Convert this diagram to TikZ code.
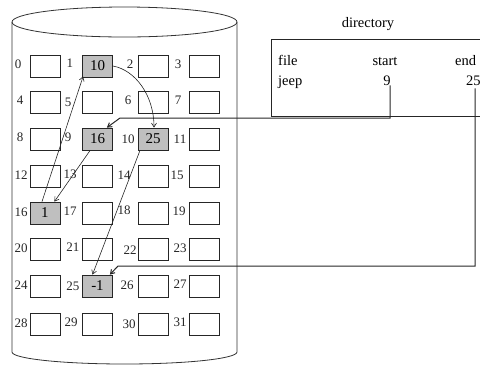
\documentclass[tikz,border=0pt]{standalone}
\usepackage{fontspec}
\setmainfont{Liberation Serif}
\usetikzlibrary{arrows.meta}
\begin{document}
\begin{tikzpicture}[x=1pt,y=-1pt,
  blk/.style={draw=black!85,line width=0.8pt,minimum width=30pt,minimum height=22pt,inner sep=0pt,font=\fontsize{15}{15}\selectfont},
  used/.style={blk,fill=black!25},
  lbl/.style={inner sep=0pt,font=\fontsize{13}{13}\selectfont,text=black!85},
  dtxt/.style={inner sep=0pt,anchor=base,font=\fontsize{14.5}{14.5}\selectfont},
  chain/.style={draw=black!85,line width=0.6pt,-{Straight Barb[length=4pt,width=5pt]}},
  ptr/.style={draw=black!85,line width=1pt,-{Straight Barb[length=4pt,width=5pt]}}]
\useasboundingbox (0,0) rectangle (480,368);
\clip (0,0) rectangle (480,368);
% cylinder
\draw[black!80,line width=0.8pt] (124.5,22) ellipse [x radius=112.5, y radius=15];
\draw[black!80,line width=0.8pt] (12,22) -- (12,352) arc[start angle=180,end angle=360,x radius=112.5,y radius=-12] -- (237,22);
% blocks
\foreach \i/\cx/\cy/\v in {0/45/66/,1/97.5/66/10,2/153/66/,3/204/66/,
  4/45/102/,5/97.5/102/,6/153/102/,7/204/102/,
  8/45/139/,9/97.5/139/16,10/153/139/25,11/204/139/,
  12/45/176/,13/97.5/176/,14/153/176/,15/204/176/,
  16/45/213/1,17/97.5/213/,18/153/213/,19/204/213/,
  20/45/249/,21/97.5/249/,22/153/249/,23/204/249/,
  24/45/286/,25/97.5/286/-1,26/153/286/,27/204/286/,
  28/45/324/,29/97.5/324/,30/153/324/,31/204/324/}{
  \ifx\v\empty
    \node[blk] (b\i) at (\cx,\cy) {};
  \else
    \node[used] (b\i) at (\cx,\cy) {\v};
  \fi
}
% labels
\foreach \i/\lx/\ly in {0/18/64,1/70/63,2/130/64,3/178/64,
  4/20/100,5/68/102,6/128/100,7/178/100,
  8/20/137,9/68/137,10/128/139,11/180/139,
  12/21/175,13/70/174,14/124/175,15/177/175,
  16/21/212,17/70/211,18/124/210,19/179/211,
  20/21/248,21/73/247,22/130/250,23/180/248,
  24/21/285,25/73/286,26/127/285,27/180/284,
  28/21/323,29/71/322,30/129/324,31/180/322}{
  \node[lbl] (l\i) at (\lx,\ly) {\i};
}
% chain pointers
\draw[chain] (b9.south west) ++(8,0) coordinate (c9) -- ([xshift=-6]b16.north east);
\draw[chain] ([xshift=-3]b16.north) -- ([xshift=1,yshift=1]b1.south west);
\draw[chain] (b1.east) .. controls (135,70) and (154,95) .. ([xshift=1]b10.north);
\draw[chain] ([xshift=-13]b10.south) -- ([xshift=-5]b25.north);
% directory
\node[inner sep=0pt,font=\fontsize{14.5}{14.5}\selectfont,anchor=base] (dir) at (368,27) {directory};
\draw[black!85,line width=1pt] (271,39) rectangle (495,116);
\node[dtxt,anchor=base west] (hfile) at (278,65) {file};
\node[dtxt] (hstart) at (385,65) {start};
\node[dtxt,anchor=base west] (hend) at (455,65) {end};
\node[dtxt,anchor=base west] (vjeep) at (278,85) {jeep};
\node[dtxt] (vstart) at (387,85) {9};
\node[dtxt,anchor=base west] (vend) at (466,85) {25};
\coordinate (sA) at (390,118);
\coordinate (sB) at (120,118);
\coordinate (eA) at (475,266);
\coordinate (eB) at (118,266);
\draw[ptr] (vstart.south -| sA) -- (sA) -- (sB) -- ([xshift=-6]b9.north east);
\draw[ptr] (vend.south -| eA) ++(0,3) -- (eA) -- (eB) -- ([xshift=-3]b25.north east);
\end{tikzpicture}
\end{document}
